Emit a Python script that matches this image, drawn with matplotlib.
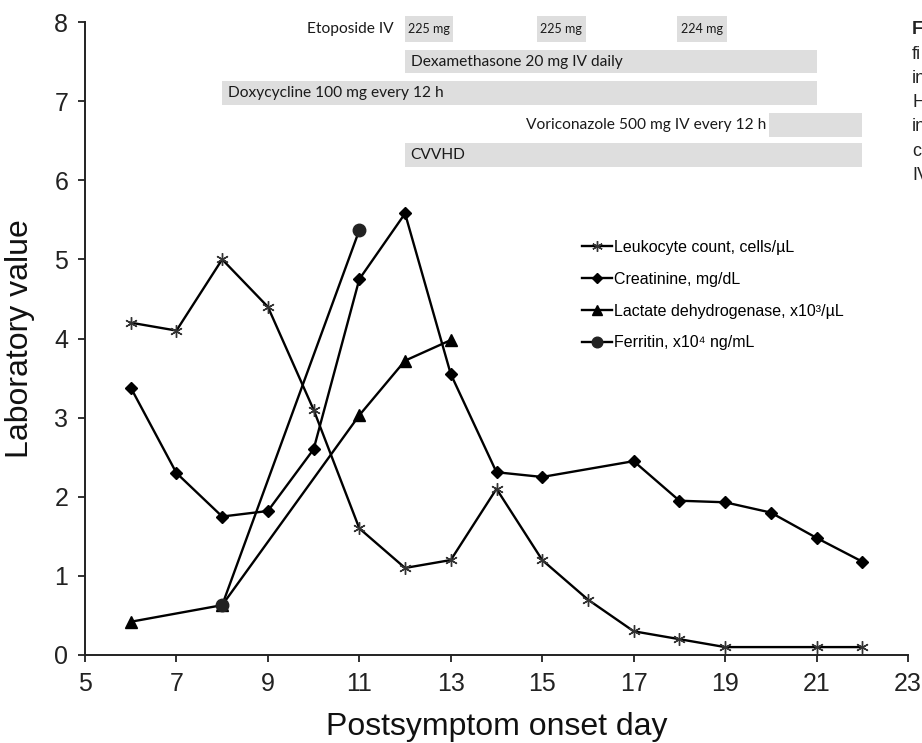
import matplotlib
matplotlib.use('Agg')
import matplotlib.pyplot as plt

# laboratory values by postsymptom day
leuko_days = [6, 7, 8, 9, 10, 11, 12, 13, 14, 15, 16, 17, 18, 19, 21, 22]
leuko_vals = [4.2, 4.1, 5.0, 4.4, 3.1, 1.6, 1.1, 1.2, 2.1, 1.2, 0.7, 0.3, 0.2, 0.1, 0.1, 0.1]

creat_days = [6, 7, 8, 9, 10, 11, 12, 13, 14, 15, 17, 18, 19, 20, 21, 22]
creat_vals = [3.38, 2.3, 1.75, 1.82, 2.6, 4.75, 5.58, 3.55, 2.31, 2.25, 2.45, 1.95, 1.93, 1.8, 1.48, 1.18]

ldh_days = [6, 8, 11, 12, 13]
ldh_vals = [0.42, 0.63, 3.03, 3.72, 3.98]

ferr_days = [8, 11]
ferr_vals = [0.63, 5.37]

# treatment timeline (start day, end day, row centre)
treat_labels = ['Dexamethasone 20 mg IV daily', 'Doxycycline 100 mg every 12 h',
                'Voriconazole 500 mg IV every 12 h', 'CVVHD']
treat_start = [12.0, 8.0, 19.95, 12.0]
treat_end = [21.0, 21.0, 22.0, 22.0]
treat_row = [7.50, 7.10, 6.70, 6.32]

etop_start = [12.0, 14.88, 17.95]
etop_end = [13.05, 15.96, 19.05]
etop_doses = ['225 mg', '225 mg', '224 mg']
etop_row = 7.91

plt.rcParams['font.family'] = ['Liberation Sans', 'DejaVu Sans']

def main():
    f = plt.figure(figsize=(9.22, 7.43), dpi=100)
    ax = f.add_axes([85/922, 1-655/743, (908-85)/922, (655-22)/743])

    ax.plot(leuko_days, leuko_vals, color='k', lw=1.7, marker=(6, 2, 0), ms=9,
            mec='#333333', mew=1.0, label='Leukocyte count, cells/\u00b5L')
    ax.plot(creat_days, creat_vals, color='k', lw=1.7, marker='D', ms=6,
            label='Creatinine, mg/dL')
    ax.plot(ldh_days, ldh_vals, color='k', lw=1.7, marker='^', ms=8,
            label='Lactate dehydrogenase, x10\u00b3/\u00b5L')
    ax.plot(ferr_days, ferr_vals, color='k', lw=1.7, marker='o', ms=9, mfc='#222222',
            mec='#222222', label='Ferritin, x10\u2074 ng/mL')

    # treatment bars
    bar_col = '#dedede'
    bfont = dict(family=['Lato', 'DejaVu Sans'], fontsize=11.2, color='#1a1a1a')
    for lab, s, e, r in zip(treat_labels, treat_start, treat_end, treat_row):
        ax.broken_barh([(s, e - s)], (r - 0.15, 0.30), facecolors=bar_col, clip_on=False, zorder=0)
        if lab.startswith('Voriconazole'):
            ax.text(s - 0.05, r, lab, ha='right', va='center', **bfont)
        else:
            ax.text(s + 0.12, r, lab, ha='left', va='center', **bfont)

    for s, e, d in zip(etop_start, etop_end, etop_doses):
        ax.broken_barh([(s, e - s)], (etop_row - 0.16, 0.32), facecolors=bar_col, clip_on=False, zorder=0)
        ax.text((s + e) / 2, etop_row, d, ha='center', va='center',
                family=['Lato', 'DejaVu Sans'], fontsize=9, color='#1a1a1a')
    ax.text(11.75, etop_row, 'Etoposide IV', ha='right', va='center', **bfont)

    ax.set_xlim(5, 23)
    ax.set_ylim(0, 8)
    ax.set_xticks(range(5, 24, 2))
    ax.set_yticks(range(0, 9))
    for s in ['top', 'right']:
        ax.spines[s].set_visible(False)
    for s in ['left', 'bottom']:
        ax.spines[s].set_linewidth(1.4)
        ax.spines[s].set_color('#222222')
    ax.tick_params(direction='out', length=5, width=1.3, labelsize=18, colors='#222222', pad=7)
    ax.set_xlabel('Postsymptom onset day', fontsize=23, labelpad=12, color='#111111')
    ax.set_ylabel('Laboratory value', fontsize=23, labelpad=14, color='#111111')

    ax.legend(loc='upper left', bbox_to_anchor=(582/922, 1-240/743), bbox_transform=f.transFigure,
              frameon=False, fontsize=11.5, handlelength=1.9, handletextpad=0.1,
              labelspacing=1.05, borderpad=0, borderaxespad=0, markerscale=0.85)

    # cut-off caption at the right edge
    cap = ['F', 'fi', 'in', 'H', 'in', 'c', 'IV']
    for i, c in enumerate(cap):
        f.text(912/922, 1-(30 + 24.2*i)/743, c, fontsize=13, va='center', ha='left',
               fontweight='bold' if i == 0 else 'normal', color='#222222')

    f.savefig('out.png', dpi=100)


if __name__ == '__main__':
    main()
